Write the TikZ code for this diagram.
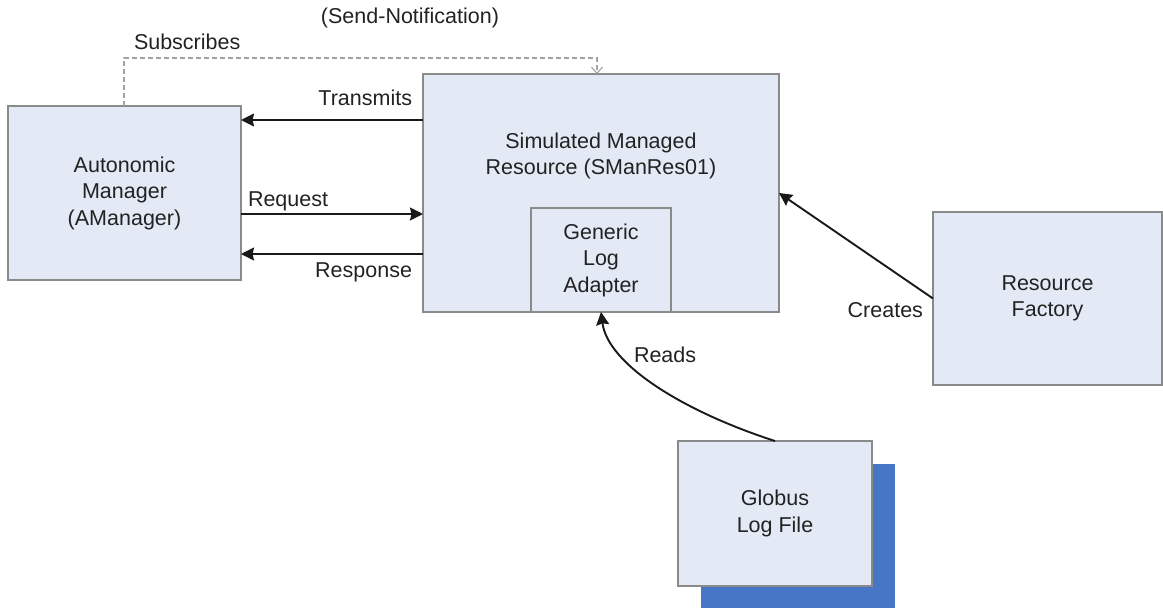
\documentclass[tikz,border=0pt]{standalone}
\usepackage{fontspec}
\setmainfont{Liberation Sans}
\usetikzlibrary{arrows.meta}

\definecolor{boxfill}{HTML}{E4EAF5}
\definecolor{boxline}{HTML}{8A8A8A}
\definecolor{inkdark}{HTML}{222222}
\definecolor{shadowblue}{HTML}{4676C5}
\definecolor{dashgray}{HTML}{A3A3A3}

\begin{document}
\begin{tikzpicture}[x=1pt,y=-1pt,
  every node/.style={font=\fontsize{21.5}{26.5}\selectfont, text=inkdark},
  block/.style={draw=boxline, line width=1.2pt, fill=boxfill, align=center,
    inner sep=0pt, outer sep=0pt, anchor=center},
  shade/.style={fill=shadowblue, draw=none, inner sep=0pt, outer sep=0pt, anchor=center},
  flow/.style={line width=1.9pt, draw=black!90,
    -{Stealth[length=13pt,width=13pt,inset=1.5pt]}},
  notify/.style={line width=1.1pt, draw=dashgray, dash pattern=on 5pt off 3pt,
    -{Straight Barb[length=6pt,width=11pt,line width=1.1pt]}},
  lbl/.style={inner sep=0pt, outer sep=0pt}
]
\useasboundingbox (0,0) rectangle (1163,608);

% boxes
\node[block, minimum width=233pt, minimum height=174pt] (am) at (124.5,193)
  {Autonomic\\Manager\\(AManager)};
\node[block, minimum width=356pt, minimum height=238pt] (sm) at (601,193) {};
\node[lbl, align=center] (smtext) at (601,156)
  {Simulated Managed\\Resource (SManRes01)};
\node[block, minimum width=140pt, minimum height=104pt] (gla) at (601,260)
  {Generic\\Log\\Adapter};
\node[block, minimum width=229pt, minimum height=173pt] (rf) at (1047.5,298.5)
  {Resource\\Factory};
\node[shade, minimum width=194pt, minimum height=146pt] (glshadow) at (798,537) {};
\node[block, minimum width=194pt, minimum height=145pt] (gl) at (775,513.5)
  {Globus\\Log File};

% subscription path
\coordinate (subx) at (124,58);
\coordinate (subturn) at (597,58);
\draw[notify] (subx |- am.north) -- (subx) -- (subturn) -- (subturn |- sm.north);
\node[lbl, anchor=base west] (subscribes) at (134,49) {Subscribes};
\node[lbl, anchor=base] (sendnote) at (410,23) {(Send-Notification)};

% message arrows
\coordinate (ytrans) at (0,120);
\coordinate (yreq) at (0,214);
\coordinate (yresp) at (0,254);
\draw[flow] (sm.west |- ytrans) -- (am.east |- ytrans);
\draw[flow] (am.east |- yreq) -- (sm.west |- yreq);
\draw[flow] (sm.west |- yresp) -- (am.east |- yresp);
\node[lbl, anchor=base east] (transmits) at (412,105) {Transmits};
\node[lbl, anchor=base west] (request) at (248,206) {Request};
\node[lbl, anchor=base east] (response) at (412,277) {Response};

% creation and reading
\draw[flow] (rf.west) -- (sm.east);
\node[lbl, anchor=base east] (creates) at (923,317) {Creates};
\draw[flow] (gl.north) .. controls (685,412) and (608,365) .. (gla.south);
\node[lbl, anchor=base west] (reads) at (634,362) {Reads};
\end{tikzpicture}
\end{document}
